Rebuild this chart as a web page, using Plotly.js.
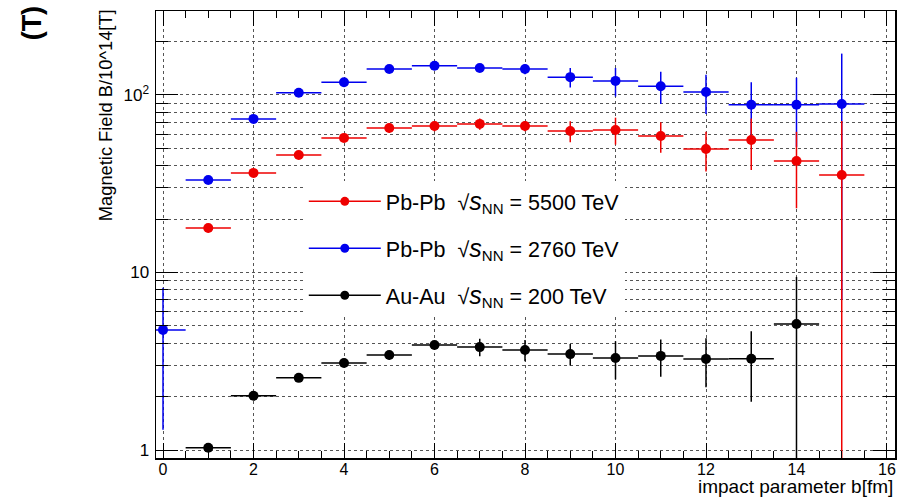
<!DOCTYPE html>
<html>
<head>
<meta charset="utf-8">
<script src="https://cdn.plot.ly/plotly-3.0.1.min.js"></script>
<style>
html,body{margin:0;padding:0;background:#fff;}
#chart{width:900px;height:498px;}
</style>
</head>
<body>
<div id="chart"></div>
<script>
// impact parameter b [fm]
const bBlue  = [0,1,2,3,4,5,6,7,8,9,10,11,12,13,14,15];
const bRed   = [1,2,3,4,5,6,7,8,9,10,11,12,13,14,15];
const bBlack = [1,2,3,4,5,6,7,8,9,10,11,12,13,14];

// Pb-Pb sqrt(s_NN) = 2760 TeV
const fieldBlue = [4.75,33.2,73.3,103,118,140,146,142,140,126,120,112,104,88,88,89];
const errBlue   = [3.45,1.5,2.5,3,4,5,6,7,9,16,22,23,26,30,37,82];
// Pb-Pb sqrt(s_NN) = 5500 TeV
const fieldRed = [17.8,36.4,45.9,57.3,65.2,66.9,68.7,66.9,62.7,63.5,58.7,49.6,55.8,42.5,35.4];
const errRed   = [1,2,2.5,3,4,4.5,5,4.5,8.5,11,11.5,12.5,18,19.5,36];
// Au-Au sqrt(s_NN) = 200 TeV
const fieldBlack = [1.03,2.02,2.55,3.09,3.43,3.90,3.80,3.66,3.47,3.30,3.39,3.26,3.27,5.13];
const errBlack   = [0.05,0.08,0.1,0.15,0.2,0.22,0.43,0.5,0.48,0.8,0.8,1.0,1.4,4.3];

const binHalfWidth = 0.5;

const SQ = '&nbsp;&nbsp;√<i style="font-size:25px">s</i><sub>NN</sub>&nbsp;= ';
const legendNames = [
  'Pb-Pb' + SQ + '5500 TeV',
  'Pb-Pb' + SQ + '2760 TeV',
  'Au-Au' + SQ + '200 TeV'
];

const yMajor = [1,10,100];
const yMajorText = ['1','10','10<sup>2</sup>'];
const yMinor = [2,3,4,5,6,7,8,9,20,30,40,50,60,70,80,90,200];

const RED = '#ee0000', BLUE = '#0000ee', BLACK = '#000000';

function series(x, y, e, color){
  return {
    type:'scatter', mode:'markers', x:x, y:y, showlegend:false,
    marker:{color:color, size:10, symbol:'circle'},
    error_y:{type:'data', array:e, visible:true, color:color, thickness:1.5, width:0},
    error_x:{type:'constant', value:binHalfWidth, visible:true, color:color, thickness:1.5, width:0},
    hoverinfo:'x+y', cliponaxis:true
  };
}
function legendItem(name, color, grp){
  return {
    type:'scatter', mode:'lines+markers', x:[null], y:[null], name:name,
    legendgroup:grp, line:{color:color, width:1.5},
    marker:{color:color, size:9}
  };
}

const data = [
  series(bBlue, fieldBlue, errBlue, BLUE),
  series(bRed, fieldRed, errRed, RED),
  series(bBlack, fieldBlack, errBlack, BLACK),
  legendItem(legendNames[0], RED, 'a'),
  legendItem(legendNames[1], BLUE, 'b'),
  legendItem(legendNames[2], BLACK, 'c')
];

const gridStyle = {gridcolor:'#555', griddash:'dot', gridwidth:1};

const layout = {
  width:900, height:498,
  margin:{l:156, r:5, t:11, b:40, pad:0},
  paper_bgcolor:'#fff', plot_bgcolor:'#fff',
  font:{family:'"Liberation Sans", Arial, sans-serif', size:16, color:'#000'},
  showlegend:true,
  legend:{
    x:0.2, y:0.62, xanchor:'left', yanchor:'top',
    bgcolor:'#fff', borderwidth:0,
    font:{size:21.5, family:'"Liberation Sans", Arial, sans-serif'},
    itemwidth:72, tracegroupgap:16, traceorder:'grouped',
    itemclick:false, itemdoubleclick:false
  },
  xaxis:{
    range:[-0.155, 16.177], tickmode:'linear', tick0:0, dtick:2,
    ticks:'inside', ticklen:15, tickwidth:1, tickcolor:'#000',
    showline:true, linecolor:'#000', linewidth:1.5, mirror:'ticks',
    showgrid:true, ...gridStyle, zeroline:false,
    tickfont:{size:16}, ticklabelstandoff:-4,
    minor:{dtick:0.5, tick0:0, ticks:'inside', ticklen:7, tickcolor:'#000', tickwidth:1, showgrid:false}
  },
  yaxis:{
    type:'log', range:[-0.045, 2.473],
    tickmode:'array', tickvals:yMajor, ticktext:yMajorText,
    ticks:'inside', ticklen:22, tickwidth:1, tickcolor:'#000',
    showline:true, linecolor:'#000', linewidth:1.5, mirror:'ticks',
    showgrid:true, ...gridStyle, zeroline:false,
    tickfont:{size:17}, ticklabelstandoff:2,
    minor:{tickmode:'array', tickvals:yMinor, ticks:'inside', ticklen:12, tickcolor:'#000', tickwidth:1,
           showgrid:true, gridcolor:'#555', griddash:'dot', gridwidth:1}
  },
  annotations:[
    {text:'Magnetic Field B/10^14[T]', xref:'paper', yref:'paper', x:-0.069, y:0.767,
     xanchor:'center', yanchor:'middle', textangle:-90, showarrow:false,
     font:{size:18.3, color:'#000'}},
    {text:'impact parameter b[fm]', xref:'paper', yref:'paper', x:1.0, y:-0.064,
     xanchor:'right', yanchor:'middle', showarrow:false, font:{size:19, color:'#000'}},
    {text:'<b>(T)</b>', xref:'paper', yref:'paper', x:-0.168, y:0.972,
     xanchor:'center', yanchor:'middle', textangle:-90, showarrow:false,
     font:{size:27, color:'#000'}}
  ]
};

Plotly.newPlot('chart', data, layout, {staticPlot:true, displayModeBar:false});
</script>
</body>
</html>
